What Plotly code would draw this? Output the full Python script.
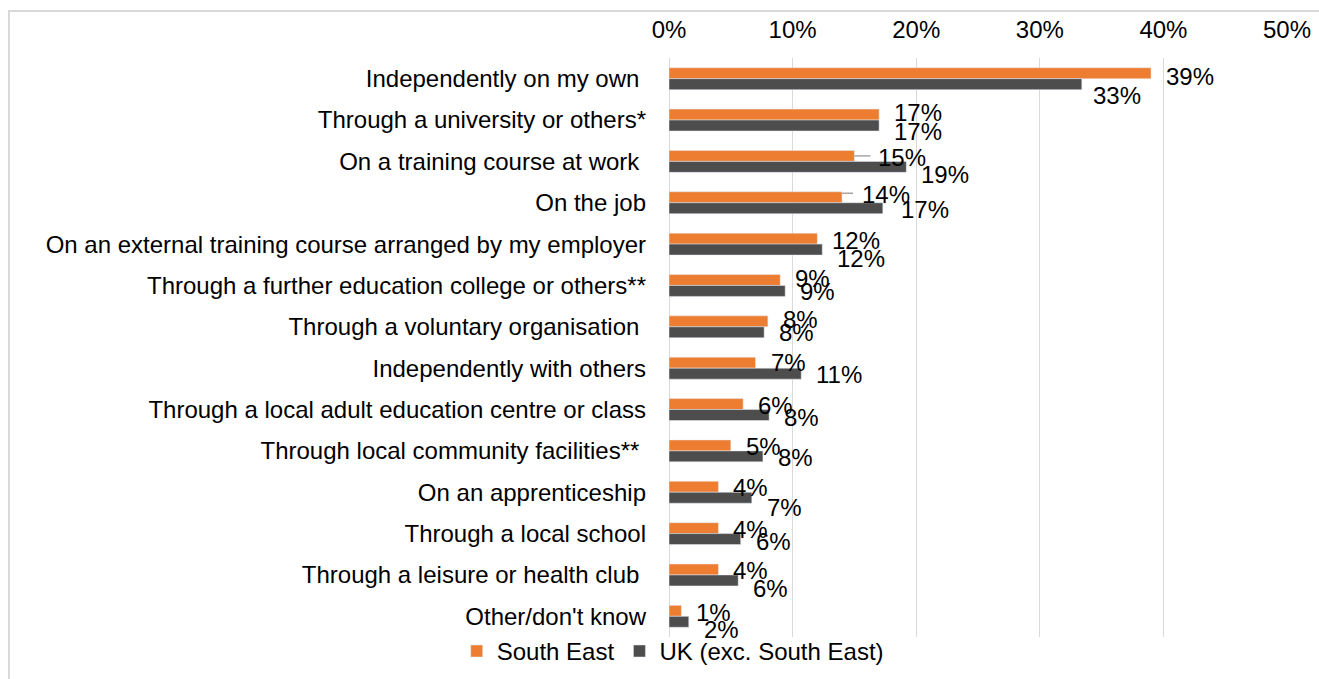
import plotly.graph_objects as go

# Survey categories, top to bottom
categories = [
    "Independently on my own",
    "Through a university or others*",
    "On a training course at work",
    "On the job",
    "On an external training course arranged by my employer",
    "Through a further education college or others**",
    "Through a voluntary organisation",
    "Independently with others",
    "Through a local adult education centre or class",
    "Through local community facilities**",
    "On an apprenticeship",
    "Through a local school",
    "Through a leisure or health club",
    "Other/don't know",
]
# Category labels as printed (some carry a trailing space)
category_text = [
    "Independently on my own\u00a0",
    "Through a university or others*",
    "On a training course at work\u00a0",
    "On the job",
    "On an external training course arranged by my employer",
    "Through a further education college or others**",
    "Through a voluntary organisation\u00a0",
    "Independently with others",
    "Through a local adult education centre or class",
    "Through local community facilities**\u00a0",
    "On an apprenticeship",
    "Through a local school",
    "Through a leisure or health club\u00a0",
    "Other/don't know",
]

south_east = [0.39, 0.17, 0.15, 0.14, 0.12, 0.09, 0.08, 0.07, 0.06, 0.05, 0.04, 0.04, 0.04, 0.01]
uk_exc_se = [0.334, 0.17, 0.192, 0.173, 0.124, 0.094, 0.077, 0.107, 0.081, 0.076, 0.067, 0.058, 0.056, 0.016]

tick_vals = [0, 0.1, 0.2, 0.3, 0.4, 0.5]
tick_text = ["0%", "10%", "20%", "30%", "40%", "50%"]

ORANGE = "#ED7D31"
GREY = "#4D4D4D"
FONT = "Liberation Sans, Arial, sans-serif"
FS = 24

fig = go.Figure()
fig.add_trace(go.Bar(y=categories, x=south_east, orientation="h", name="South East",
                     marker=dict(color=ORANGE)))
fig.add_trace(go.Bar(y=categories, x=uk_exc_se, orientation="h", name="UK (exc. South East)",
                     marker=dict(color=GREY)))

# Data-label nudges (pixels): extra right shift and downward drop per label
se_dx = [0, 0, 9, 5, 0, 0, 0, 0, 0, 0, 0, 0, 0, 0]
se_dy = [3, -2, 2, -3, 2, -1, -2, 0, 1, 1, 1, 1, 1, 2]
uk_dx = [-4, 0, 0, 3, 0, 0, 0, 0, 0, 0, 0, 0, 0, 0]
uk_dy = [11, 6, 8, 1, 9, 1, 0, 1, 2, 1, 10, 2, 8, 8]
# Short leader lines from bar end to a displaced label: (row, length px, height px)
se_leaders = [(2, 16, 5.5), (3, 11, 9.5)]

half_bar = 5.5
annotations = []
for i, cat in enumerate(categories):
    annotations.append(dict(x=south_east[i], y=cat, xref="x", yref="y",
                            text=f"{south_east[i]:.0%}", showarrow=False,
                            xanchor="left", yanchor="middle",
                            xshift=13 + se_dx[i], yshift=half_bar - se_dy[i],
                            font=dict(family=FONT, size=FS, color="#000000")))
    annotations.append(dict(x=uk_exc_se[i], y=cat, xref="x", yref="y",
                            text=f"{uk_exc_se[i]:.0%}", showarrow=False,
                            xanchor="left", yanchor="middle",
                            xshift=13 + uk_dx[i], yshift=-half_bar - uk_dy[i],
                            font=dict(family=FONT, size=FS, color="#000000")))

shapes = [
    # outer chart frame
    dict(type="rect", xref="paper", yref="paper", x0=-1.068, x1=1.2, y0=-0.3, y1=1.081,
         line=dict(color="#D9D9D9", width=2), layer="below"),
]
for row, length, h in se_leaders:
    shapes.append(dict(type="line", xref="x", yref="y",
                       xsizemode="pixel", xanchor=south_east[row], x0=0, x1=length,
                       ysizemode="pixel", yanchor=categories[row], y0=h, y1=h,
                       line=dict(color="#A6A6A6", width=1.5)))

fig.update_layout(
    width=1319, height=679,
    margin=dict(l=669, r=32, t=58, b=42, autoexpand=False),
    paper_bgcolor="white", plot_bgcolor="white",
    font=dict(family=FONT, size=FS, color="#000000"),
    barmode="group", bargap=0.47, bargroupgap=0,
    showlegend=True,
    legend=dict(orientation="h", x=0.006, xanchor="center", y=0.014, yanchor="top",
                font=dict(family=FONT, size=FS, color="#000000"),
                itemwidth=30, traceorder="normal", bgcolor="rgba(0,0,0,0)"),
    annotations=annotations,
    shapes=shapes,
)
fig.update_xaxes(range=[0, 0.5], side="top", tickvals=tick_vals, ticktext=tick_text,
                 showgrid=True, gridcolor="#D9D9D9", gridwidth=1,
                 zeroline=True, zerolinecolor="#D9D9D9", zerolinewidth=1,
                 showline=False, ticks="", automargin=False, ticklabelstandoff=14,
                 tickfont=dict(family=FONT, size=FS))
fig.update_yaxes(range=[len(categories) - 0.5, -0.5], tickvals=categories, ticktext=category_text,
                 showgrid=False, ticks="", showline=False, ticklabelstandoff=22,
                 automargin=False, tickfont=dict(family=FONT, size=FS))

fig.write_html("out.html")
